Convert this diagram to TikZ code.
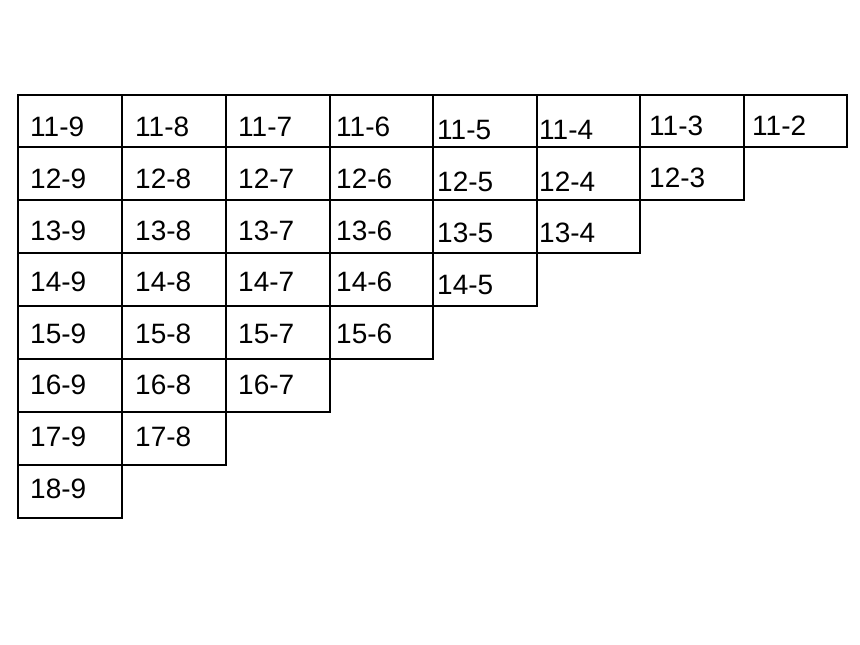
\documentclass[tikz,border=0pt]{standalone}
\usepackage{fontspec}
\setmainfont{Liberation Sans}
\begin{document}
\begin{tikzpicture}[x=1pt,y=-1pt,
  cellbox/.style={draw=black,line width=2pt},
  celltext/.style={anchor=base west,inner sep=0pt,font=\fontsize{28}{30}\selectfont}]
\useasboundingbox (0,0) rectangle (860,645);
\def\colx{{18,122,226,329.5,433,537,640,744,847}}
\def\textx{{30,135,238,336,437,539,649,752}}
\def\textb{{136.8,136.8,136.8,136.8,139.5,139.5,135.8,135.8}}
\foreach \r in {1,...,8}{
  \pgfmathtruncatemacro{\maxc}{9-\r}
  \foreach \c in {1,...,\maxc}{
    \pgfmathsetmacro{\xa}{\colx[\c-1]}
    \pgfmathsetmacro{\xb}{\colx[\c]}
    \pgfmathsetmacro{\ya}{94.5+52.9*(\r-1)}
    \pgfmathsetmacro{\yb}{94.5+52.9*\r}
    \pgfmathsetmacro{\tx}{\textx[\c-1]}
    \pgfmathsetmacro{\ty}{\textb[\c-1]+51.6*(\r-1)}
    \pgfmathtruncatemacro{\a}{10+\r}
    \pgfmathtruncatemacro{\b}{10-\c}
    \draw[cellbox] (\xa,\ya) rectangle (\xb,\yb);
    \node[celltext] (t\r\c) at (\tx,\ty) {\a-\b};
  }
}
\end{tikzpicture}
\end{document}
